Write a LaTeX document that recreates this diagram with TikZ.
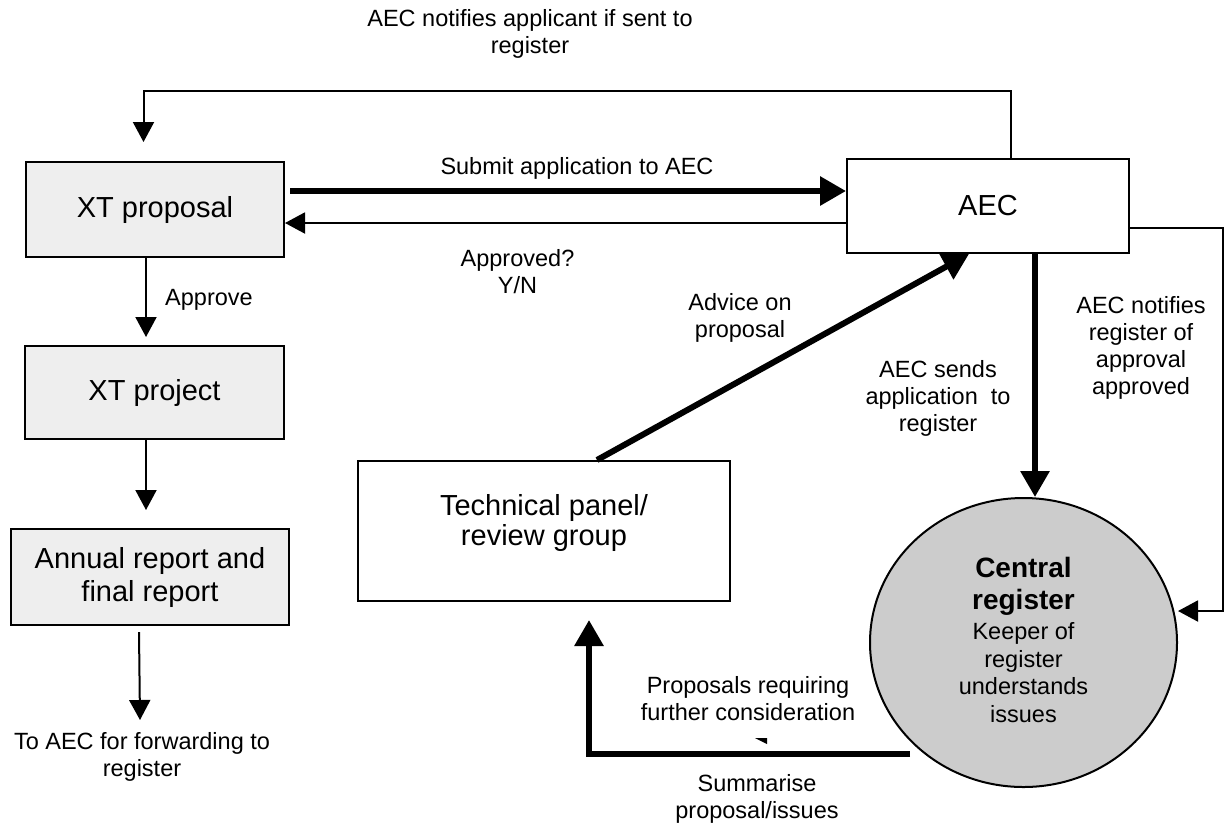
\documentclass[tikz,border=0pt]{standalone}
\usepackage{fontspec}
\setmainfont{Liberation Sans}
\usetikzlibrary{arrows.meta,shapes.geometric}
\definecolor{boxgray}{HTML}{EEEEEE}
\definecolor{circgray}{HTML}{CCCCCC}
\begin{document}
\begin{tikzpicture}[x=0.5pt,y=-0.5pt,
  box/.style={draw, line width=1pt, fill=boxgray, font=\fontsize{14.5}{16.5}\selectfont, align=center, inner sep=0pt},
  wbox/.style={box, fill=white},
  lbl/.style={font=\fontsize{11.75}{13.5}\selectfont, align=center, inner sep=0pt},
  thinarrow/.style={line width=1pt, -{Triangle[length=10pt,width=10.5pt]}},
  thickarrow/.style={line width=3pt, -{Triangle[length=13pt,width=14pt]}},
  plainline/.style={line width=1pt},
  thickline/.style={line width=3pt}]
\useasboundingbox (0,0) rectangle (1225,826);

% boxes
\node[box, minimum width=129pt, minimum height=47.5pt] (xtprop) at (155,209.5) {XT proposal};
\node[box, minimum width=129.5pt, minimum height=46.5pt] (xtproj) at (154.5,392.5) {XT project};
\node[box, minimum width=139pt, minimum height=48pt] (annual) at (150,577) {Annual report and\\final report};
\node[wbox, minimum width=141pt, minimum height=47pt] (aec) at (988,206) {AEC};
\node[wbox, minimum width=186pt, minimum height=70pt,
      label={[font=\fontsize{14.5}{15}\selectfont, align=center, yshift=4pt]center:{Technical panel/\\review group}}] (tech) at (544,531) {};
\node[draw, ellipse, line width=1pt, fill=circgray, minimum width=153.5pt, minimum height=144.5pt, inner sep=0pt] (reg) at (1023.5,642.5) {};
\node[align=center, inner sep=0pt, font=\fontsize{11.75}{13.75}\selectfont] (regtxt) at (1023.5,640)
  {{\fontsize{14}{16}\selectfont\bfseries Central}\\[2.25pt]{\fontsize{14}{16}\selectfont\bfseries register}\\[1.25pt]Keeper of\\register\\understands\\issues};

% coordinates
\coordinate (t1) at (1011,91);
\coordinate (t2) at (143.5,91);
\coordinate (t3) at (143.5,142);
\coordinate (sy) at (0,191);
\coordinate (ay) at (0,223);
\coordinate (r1) at (1223,228);
\coordinate (r2) at (1223,611);
\coordinate (r3) at (1178,611);
\coordinate (ap1) at (146,337);
\coordinate (pj1) at (146,510);
\coordinate (an0) at (139,632);
\coordinate (an1) at (140,720);
\coordinate (s0) at (910,754);
\coordinate (s1) at (589,754);
\coordinate (s2) at (589,620);

% connectors
\draw[thinarrow] (t1 |- aec.north) -- (t1) -- (t2) -- (t3);
\draw[thickarrow] ([xshift=2.5pt]xtprop.east |- sy) -- (aec.west |- sy);
\draw[thinarrow] (aec.west |- ay) -- (xtprop.east |- ay);
\draw[thinarrow] (aec.east |- r1) -- (r1) -- (r2) -- (r3);
\draw[thickarrow] (aec.south -| 1035,0) -- (reg.north -| 1035,0);
\draw[thickarrow] (tech.north -| 597,0) -- (aec.south -| 969,0);
\draw[thinarrow] (xtprop.south -| ap1) -- (ap1);
\draw[thinarrow] (xtproj.south -| pj1) -- (pj1);
\draw[thinarrow] (an0) -- (an1);
\draw[thickarrow] (s0) -- (s1) -- (s2);
\fill (755,738) -- (767,738) -- (767,744) -- cycle;

% labels
\node[lbl] (ltop) at (530,33.5) {AEC notifies applicant if sent to\\register};
\node[lbl] (lsub) at (577,168) {Submit application to AEC};
\node[lbl] (lapp) at (517.5,272) {Approved?\\Y/N};
\node[lbl] (lapr) at (209,300) {Approve};
\node[lbl] (ladv) at (740,318) {Advice on\\proposal};
\node[lbl] (lsend) at (938,398) {AEC sends\\application~ to\\register};
\node[lbl] (lnot) at (1141,348) {AEC notifies\\register of\\approval\\approved};
\node[lbl] (lprop) at (748,699) {Proposals requiring\\further consideration};
\node[lbl] (lsum) at (757,799) {Summarise\\proposal/issues};
\node[lbl] (lfwd) at (142,757) {To AEC for forwarding to\\register};
\end{tikzpicture}
\end{document}
